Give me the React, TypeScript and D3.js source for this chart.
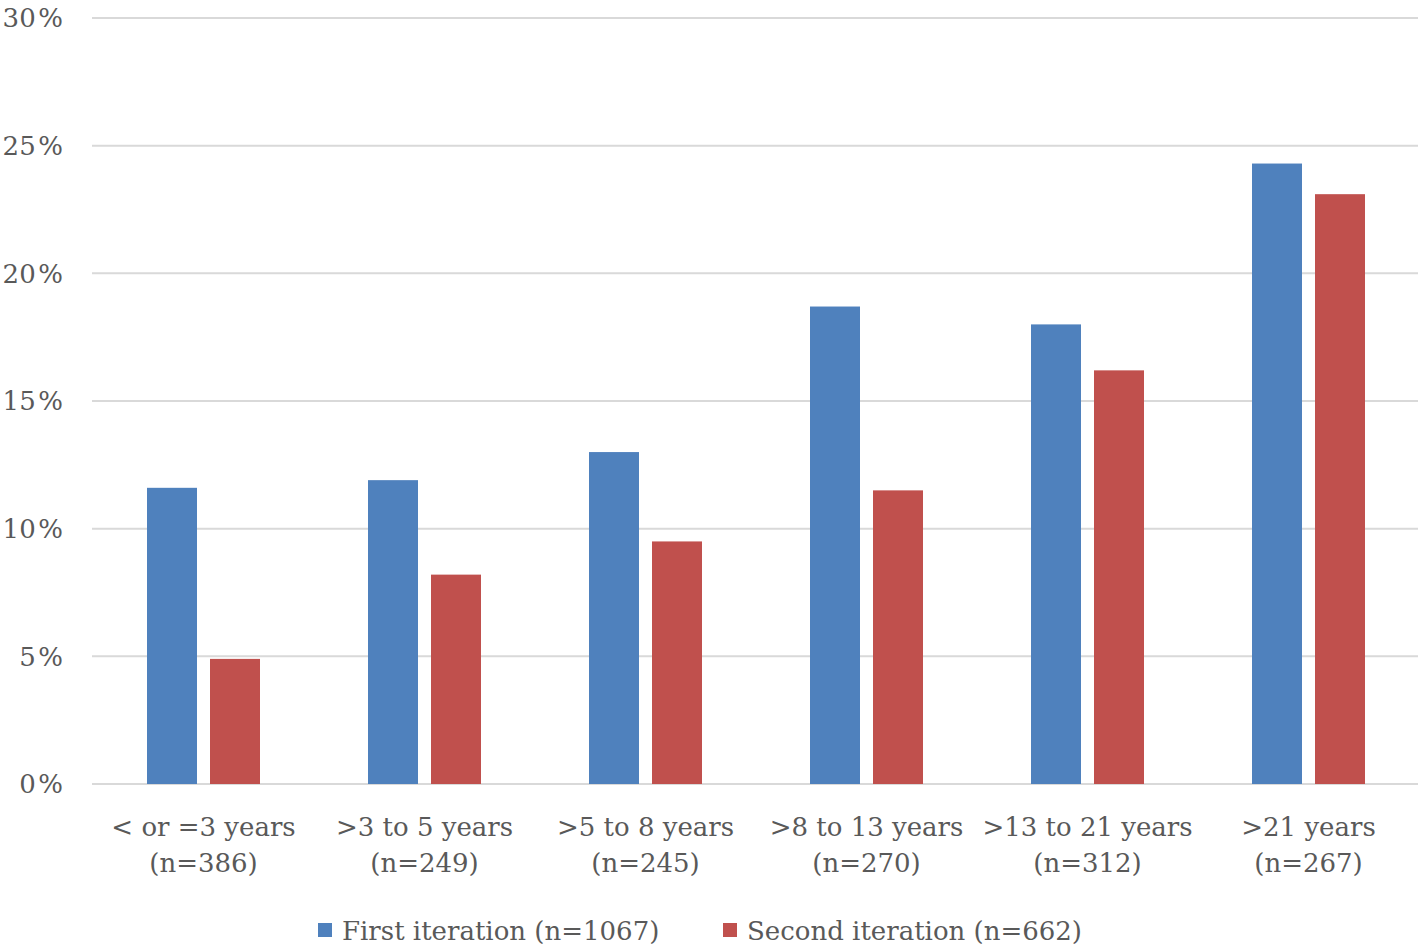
import React from "react";
import * as d3 from "d3";

const categories = ["< or =3 years", ">3 to 5 years", ">5 to 8 years", ">8 to 13 years", ">13 to 21 years", ">21 years"];
const sampleSizes = ["(n=386)", "(n=249)", "(n=245)", "(n=270)", "(n=312)", "(n=267)"];
const firstIteration = [11.6, 11.9, 13.0, 18.7, 18.0, 24.3];
const secondIteration = [4.9, 8.2, 9.5, 11.5, 16.2, 23.1];
const seriesNames = ["First iteration (n=1067)", "Second iteration (n=662)"];
const yTicks = [0, 5, 10, 15, 20, 25, 30];

const W = 1424, H = 948;
const left = 93, right = 1419, top = 18, bottom = 784;
const colors = ["#4f81bd", "#c0504d"];
const textColor = "#595959";
const font = "'DejaVu Serif', serif";

export default function App() {
  const x = d3.scaleBand<string>().domain(categories).range([left, right]).paddingInner(0).paddingOuter(0);
  const y = d3.scaleLinear().domain([0, 30]).range([bottom, top]);
  const barW = 50;
  const gap = 13;
  const series = [firstIteration, secondIteration];
  return (
    <svg width={W} height={H} style={{ position: "absolute", left: 0, top: 0, background: "#fff" }} fontFamily={font}>
      {yTicks.map((t) => (
        <g key={t}>
          <line x1={92} x2={1418} y1={y(t)} y2={y(t)} stroke="#d9d9d9" strokeWidth={2} />
          <text x={63} y={y(t)} dy="0.36em" textAnchor="end" fontSize={26} fill={textColor}>
            {t}{"\u200A%"}
          </text>
        </g>
      ))}
      {categories.map((c, i) => {
        const cx = x(c)! + x.bandwidth() / 2;
        return (
          <g key={c}>
            {series.map((s, j) => {
              const bx = j === 0 ? cx - gap / 2 - barW : cx + gap / 2;
              return (
                <rect key={j} x={bx} y={y(s[i])} width={barW} height={y(0) - y(s[i])} fill={colors[j]} />
              );
            })}
            <text x={cx} y={836} textAnchor="middle" fontSize={26} fill={textColor}>{c}</text>
            <text x={cx} y={872} textAnchor="middle" fontSize={26} fill={textColor}>{sampleSizes[i]}</text>
          </g>
        );
      })}
      {[318, 723].map((lx, j) => (
        <g key={j}>
          <rect x={lx} y={923} width={14} height={14} fill={colors[j]} />
          <text x={lx + 24} y={940} fontSize={26} fill={textColor}>{seriesNames[j]}</text>
        </g>
      ))}
    </svg>
  );
}
